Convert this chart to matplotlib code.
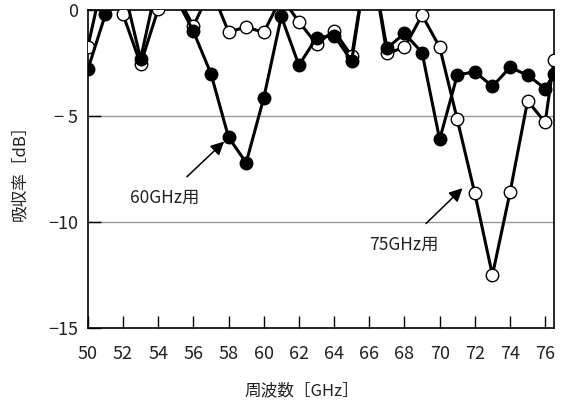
import matplotlib
matplotlib.use('Agg')
import matplotlib.pyplot as plt

plt.rcParams['font.family'] = ['Noto Sans CJK JP', 'DejaVu Sans']

# frequency points (GHz)
freq = [50, 51, 52, 53, 54, 55, 56, 57, 58, 59, 60, 61, 62, 63, 64, 65, 66,
        67, 68, 69, 70, 71, 72, 73, 74, 75, 76, 76.5]

# absorption (dB), filled markers: 60GHz type
absorb_60 = [-2.8, -0.2, 1.2, -2.3, 1.5, 0.6, -1.0, -3.0, -6.0, -7.2, -4.15,
             -0.3, -2.6, -1.3, -1.2, -2.4, 3.0, -1.8, -1.1, -2.0, -6.1, -3.07,
             -2.9, -3.6, -2.7, -3.07, -3.7, -3.0]

# absorption (dB), open markers: 75GHz type
absorb_75 = [-1.74, 2.0, -0.2, -2.55, 0.05, 0.8, -0.75, 1.0, -1.03, -0.8, -1.05,
             0.6, -0.55, -1.6, -0.97, -2.17, 3.0, -2.04, -1.76, -0.24, -1.74,
             -5.15, -8.65, -12.5, -8.6, -4.28, -5.3, -2.36]

yticks = [0, -5, -10, -15]
ytick_labels = ['0', '− 5', '−10', '−15']
xticks = list(range(50, 77, 2))

fig = plt.figure(figsize=(5.63, 4.05), dpi=100)
ax = fig.add_axes([0.156, 0.19, 0.828, 0.785])

# grid lines at -5 and -10
for gy in [-5, -10]:
    ax.axhline(gy, color='#999999', lw=1.0, zorder=1)

ax.plot(freq, absorb_75, color='black', lw=2.2, marker='o', ms=9,
        mfc='white', mec='black', mew=1.0, zorder=3)
ax.plot(freq, absorb_60, color='black', lw=2.2, marker='o', ms=9,
        mfc='black', mec='black', mew=1.0, zorder=4)

ax.set_xlim(50, 76.5)
ax.set_ylim(-15, 0)
ax.set_xticks(xticks)
ax.set_xticklabels([str(x) for x in xticks])
ax.set_yticks(yticks)
ax.set_yticklabels(ytick_labels)

ax.tick_params(axis='x', direction='in', length=9, width=1.0, pad=12,
               labelsize=13, labelcolor='#222222')
ax.tick_params(axis='y', direction='in', length=9, width=1.0, pad=7,
               labelsize=13, labelcolor='#222222')
for spine in ax.spines.values():
    spine.set_linewidth(1.2)

ax.set_xlabel('周波数［GHz］', fontsize=12, color='#222222')
ax.set_ylabel('吸収率［dB］', fontsize=12, color='#222222')
ax.xaxis.set_label_coords(0.46, -0.17)
ax.yaxis.set_label_coords(-0.129, 0.5)

# annotations
ax.annotate('60GHz用', xy=(57.75, -6.2), xytext=(54.35, -8.87),
            fontsize=12.5, ha='center', va='center', color='#222222',
            arrowprops=dict(arrowstyle='-|>', color='black', lw=1.1,
                            mutation_scale=20, shrinkA=10, shrinkB=0))
ax.annotate('75GHz用', xy=(71.3, -8.4), xytext=(67.97, -11.08),
            fontsize=12.5, ha='center', va='center', color='#222222',
            arrowprops=dict(arrowstyle='-|>', color='black', lw=1.1,
                            mutation_scale=20, shrinkA=10, shrinkB=0))

fig.savefig('out.png', dpi=100)
